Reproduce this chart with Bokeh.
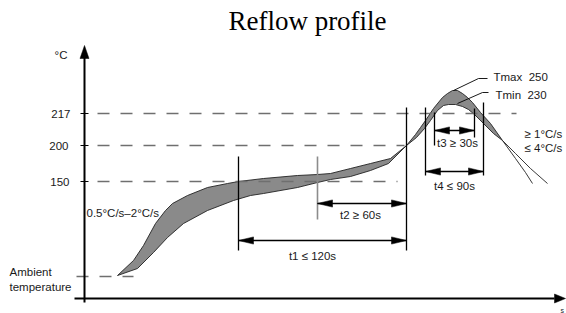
from bokeh.plotting import figure
from bokeh.models import Range1d
from bokeh.core.properties import value
from bokeh.embed import file_html
from bokeh.resources import INLINE

# ---------------- data (schematic diagram units: x = time, y = temperature scale) -------------
title_text = "Reflow profile"

# preheat / soak band: upper and lower edges
upper_x = [33, 49, 59, 71, 81, 88, 103, 123, 143, 154, 179, 213, 233, 246, 266, 286, 306, 322]
upper_y = [23, 38, 53, 75, 88, 95, 103, 111, 115, 117, 120, 123, 124, 125, 130, 135, 140, 153]
lower_x = [33, 53, 69, 83, 99, 123, 149, 166, 179, 213, 233, 246, 266, 286, 304, 322]
lower_y = [23, 30, 46, 61, 75, 88, 98, 103, 105, 111, 116, 119, 122, 128, 135, 153]

# reflow peak: Tmax and Tmin curves
tmax_x = [331, 336, 341, 349, 358, 363, 368, 373, 378, 383, 388, 396, 406, 418]
tmax_y = [164, 171, 178, 190, 201, 205, 208, 208, 205, 201, 196, 186, 175, 158]
tmin_x = [332, 340, 346, 353, 359, 364, 371, 378, 384, 390, 399, 409, 418]
tmin_y = [161, 170, 178, 188, 193, 194, 194, 192, 189, 184, 175, 165, 158]

# cooling tails
tmax_tail_x = [418, 431, 441, 448]
tmax_tail_y = [158, 140, 126, 115]
tmin_tail_x = [418, 431, 446, 463]
tmin_tail_y = [158, 145, 130, 115]

# temperature levels (labels and their place on the schematic y scale)
level_labels = ["217", "200", "150"]
level_y = [185, 153, 117]
level_end_x = [432, 320, 313]
ambient_y = 22
ambient_end_x = 49

# time markers (vertical lines)
mark_x = [154, 322, 341, 399, 350, 390]
mark_top = [142, 191, 191, 196, 186, 190]
mark_bot = [48, 48, 123, 123, 153, 161]
t2_mark_x = 233
t2_mark_top = 142
t2_mark_bot = 79

# dimension arrows
dim_labels = ["t1 \u2264 120s", "t2 \u2265 60s", "t3 \u2265 30s", "t4 \u2264 90s"]
dim_x0 = [154, 233, 350, 341]
dim_x1 = [322, 322, 390, 399]
dim_y = [58, 95, 168, 127]
dim_label_x = [228, 276, 373, 370]
dim_label_y = [43, 84, 156, 113]

# peak labels with leaders
peak_labels = ["Tmax\u00a0 250", "Tmin\u00a0 230"]
leader_x = [[369, 394, 403], [373, 398, 404]]
leader_y = [[208, 220, 220], [195, 206, 206]]
peak_label_x = [409, 411]
peak_label_y = [222, 204]

# ---------------- figure ----------------
p = figure(width=566, height=313, x_range=Range1d(-84, 482), y_range=Range1d(-15, 298),
           output_backend="svg", toolbar_location=None, min_border=0)
p.axis.visible = False
p.grid.visible = False
p.outline_line_color = None
p.background_fill_color = "white"

FONT = value("Liberation Sans")
TXT = "#1a1a1a"

# band (filled)
band_x = upper_x + tmax_x + tmin_x[::-1] + lower_x[::-1]
band_y = upper_y + tmax_y + tmin_y[::-1] + lower_y[::-1]
p.patch(band_x, band_y, fill_color="#8a8a8a", line_color="#222222", line_width=0.9)
p.line(tmax_tail_x, tmax_tail_y, line_color="#222222", line_width=0.9)
p.line(tmin_tail_x, tmin_tail_y, line_color="#222222", line_width=0.9)

# dashed level lines
dash_xs = [[13, e] for e in level_end_x] + [[-8, ambient_end_x]]
dash_ys = [[y, y] for y in level_y] + [[ambient_y, ambient_y]]
p.multi_line(dash_xs, dash_ys, line_color="#6f6f6f", line_width=1.5, line_dash="12 11")

# axes
p.line([0, 0], [-4, 241], line_color="black", line_width=2)
p.line([-10, 470], [0, 0], line_color="black", line_width=2)


def head(tx, ty, dx, dy, length, half):
    bx, by = tx - dx * length, ty - dy * length
    px, py = -dy * half, dx * half
    return [tx, bx + px, bx - px], [ty, by + py, by - py]


hx, hy = [], []
ax_head = head(0, 253, 0, 1, 13, 4.5)
hx.append(ax_head[0]); hy.append(ax_head[1])
ax_head = head(481, 0, 1, 0, 11, 4.5)
hx.append(ax_head[0]); hy.append(ax_head[1])

# level ticks
p.multi_line([[-4, 4] for _ in level_y], [[y, y] for y in level_y], line_color="black", line_width=1)

# vertical time marks
p.multi_line([[x, x] for x in mark_x], [[t, b] for t, b in zip(mark_top, mark_bot)],
             line_color="black", line_width=1.3)
p.line([t2_mark_x, t2_mark_x], [t2_mark_top, t2_mark_bot], line_color="#8c8c8c", line_width=1.6)

# dimension arrows
p.multi_line([[a, b] for a, b in zip(dim_x0, dim_x1)], [[y, y] for y in dim_y],
             line_color="black", line_width=1.3)
for a, b, y in zip(dim_x0, dim_x1, dim_y):
    h1 = head(a, y, -1, 0, 15, 3.6)
    h2 = head(b, y, 1, 0, 15, 3.6)
    hx += [h1[0], h2[0]]
    hy += [h1[1], h2[1]]
p.patches(hx, hy, fill_color="black", line_color="black", line_width=0.5)

# leaders
p.multi_line(leader_x, leader_y, line_color="black", line_width=0.9)

# texts
p.text(x=[307 - 84], y=[298 - 20], text=[title_text], text_font=value("Liberation Serif"),
       text_font_size=value("27px"), text_align="center", text_baseline="middle", text_color="black")
p.text(x=[-14, -16, -15], y=level_y, text=level_labels, text_font=FONT,
       text_font_size=value("11.5px"), text_align="right", text_baseline="middle", text_color=TXT)
p.text(x=[-17], y=[244], text=["\u00b0C"], text_font=FONT, text_font_size=value("11.5px"),
       text_align="right", text_baseline="middle", text_color=TXT)
p.text(x=[-75, -75], y=[27, 12], text=["Ambient", "temperature"], text_font=FONT,
       text_font_size=value("11.5px"), text_align="left", text_baseline="middle", text_color=TXT)
p.text(x=[2], y=[86], text=["0.5\u00b0C/s\u20132\u00b0C/s"], text_font=FONT,
       text_font_size=value("11.5px"), text_align="left", text_baseline="middle", text_color=TXT)
p.text(x=dim_label_x, y=dim_label_y, text=dim_labels, text_font=FONT,
       text_font_size=value("11.5px"), text_align="center", text_baseline="middle", text_color=TXT)
p.text(x=peak_label_x, y=peak_label_y, text=peak_labels, text_font=FONT,
       text_font_size=value("11.5px"), text_align="left", text_baseline="middle", text_color=TXT)
p.text(x=[440, 440], y=[165, 151], text=["\u2265 1\u00b0C/s", "\u2264 4\u00b0C/s"], text_font=FONT,
       text_font_size=value("11.5px"), text_align="left", text_baseline="middle", text_color=TXT)
p.text(x=[476], y=[-8], text=["s"], text_font=FONT, text_font_size=value("7px"),
       text_align="left", text_baseline="top", text_color=TXT)

open("out.html", "w").write(file_html(p, INLINE))
